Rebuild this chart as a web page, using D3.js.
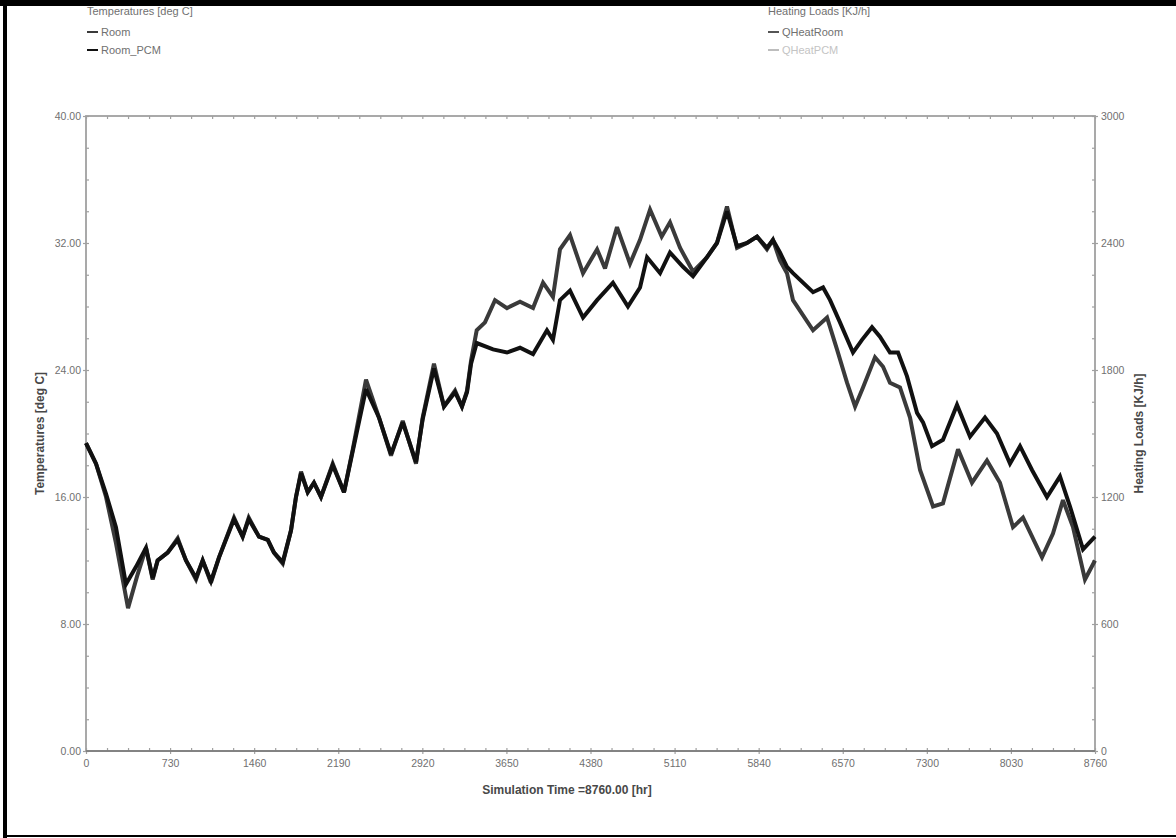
<!DOCTYPE html>
<html>
<head>
<meta charset="utf-8">
<script src="https://cdn.jsdelivr.net/npm/d3@7/dist/d3.min.js"></script>
<style>
  html, body { margin: 0; padding: 0; background: #fff; }
  svg { display: block; }
  .lbl { font-family: "Liberation Sans Narrow", "Liberation Sans", Arial, sans-serif; fill: #707070; }
  .ttl { font-family: "Liberation Sans", Arial, sans-serif; font-weight: bold; fill: #484848; }
</style>
</head>
<body>
<svg id="chart" width="1176" height="838"></svg>
<script>
// Simulation hours and room temperatures [hr, deg C]
const roomTemp = [
  [0,19.4],[87,18.1],[174,16.0],[260,13.1],[365,9.0],[443,11.0],
  [521,12.8],[579,10.8],[622,12.0],[709,12.5],[796,13.4],[868,12.0],[955,10.8],[1013,12.0],
  [1085,10.6],[1155,12.2],[1285,14.7],[1360,13.5],[1413,14.7],[1502,13.5],[1578,13.3],[1632,12.5],
  [1708,11.8],[1780,13.9],[1823,16.0],[1867,17.6],[1925,16.3],[1979,16.9],[2040,16.0],[2142,18.1],
  [2240,16.3],[2316,19.0],[2431,23.4],[2544,21.0],[2648,18.6],[2750,20.8],[2865,18.1],[2923,21.0],
  [3021,24.4],[3108,21.7],[3204,22.7],[3264,21.7],[3308,22.7],[3343,24.6],[3392,26.5],[3464,27.0],
  [3551,28.4],[3655,27.9],[3768,28.3],[3881,27.9],[3968,29.5],[4054,28.6],[4115,31.6],[4202,32.5],
  [4315,30.1],[4437,31.6],[4506,30.4],[4610,33.0],[4723,30.7],[4810,32.2],[4897,34.1],[4998,32.4],
  [5070,33.3],[5157,31.7],[5270,30.2],[5391,31.1],[5478,32.0],[5565,34.3],[5652,31.7],[5739,32.0],
  [5826,32.4],[5912,31.6],[5964,32.2],[6025,30.9],[6086,30.1],[6138,28.4],[6312,26.5],[6434,27.3],
  [6520,25.3],[6607,23.2],[6677,21.7],[6746,22.9],[6850,24.8],[6920,24.2],[6980,23.2],[7067,22.9],
  [7154,21.0],[7241,17.7],[7354,15.4],[7440,15.6],[7571,19.0],[7692,16.9],[7822,18.3],[7935,16.9],
  [8048,14.1],[8135,14.7],[8300,12.2],[8395,13.7],[8482,15.8],[8569,14.1],[8673,10.8],[8760,12.0]
];

const roomPcmTemp = [
  [0,19.4],[87,18.1],[174,16.2],[260,14.1],[347,10.5],[434,11.6],
  [521,12.8],[579,10.9],[622,12.0],[709,12.5],[796,13.3],[868,12.0],[955,10.9],[1013,12.0],
  [1085,10.7],[1155,12.2],[1285,14.6],[1360,13.5],[1413,14.6],[1502,13.5],[1578,13.3],[1632,12.5],
  [1708,11.9],[1780,13.9],[1823,16.0],[1867,17.5],[1925,16.3],[1979,16.9],[2040,16.0],[2142,18.0],
  [2240,16.3],[2316,18.9],[2431,22.8],[2544,21.0],[2648,18.7],[2750,20.7],[2865,18.2],[2923,20.9],
  [3021,24.1],[3108,21.7],[3204,22.6],[3264,21.7],[3308,22.6],[3343,24.4],[3392,25.7],[3534,25.3],
  [3655,25.1],[3768,25.4],[3881,25.0],[4002,26.5],[4054,25.9],[4115,28.4],[4202,29.0],[4315,27.3],
  [4437,28.4],[4575,29.5],[4705,28.0],[4810,29.2],[4871,31.1],[4984,30.1],[5070,31.4],[5183,30.5],
  [5270,29.9],[5391,31.1],[5478,32.0],[5565,34.0],[5652,31.8],[5739,32.0],[5826,32.4],[5912,31.7],
  [5964,32.2],[6025,31.4],[6086,30.5],[6138,30.1],[6312,28.9],[6399,29.2],[6460,28.4],[6546,27.0],
  [6659,25.1],[6737,25.9],[6824,26.7],[6893,26.1],[6980,25.1],[7050,25.1],[7128,23.6],[7215,21.3],
  [7267,20.7],[7345,19.2],[7440,19.6],[7562,21.8],[7675,19.8],[7805,21.0],[7909,20.0],[8022,18.1],
  [8109,19.2],[8213,17.7],[8343,16.0],[8456,17.3],[8543,15.4],[8656,12.7],[8760,13.5]
];

// Heating loads [hr, kJ/h] (zero over the whole year)
const qHeatRoom = [[0,0],[8760,0]];
const qHeatPcm = [[0,0],[8760,0]];

const xTicks = [0,730,1460,2190,2920,3650,4380,5110,5840,6570,7300,8030,8760];
const tempTicks = [0,8,16,24,32,40];
const loadTicks = [0,600,1200,1800,2400,3000];

const legendLeft = { title: "Temperatures  [deg C]", items: ["Room", "Room_PCM"] };
const legendRight = { title: "Heating Loads  [KJ/h]", items: ["QHeatRoom", "QHeatPCM"] };

const colors = { room: "#3a3a3a", pcm: "#111", qRoom: "#555", qPcm: "#bdbdbd" };

const svg = d3.select("#chart");
const m = { left: 86, right: 1095, top: 116, bottom: 751 };

// Page frame
svg.append("rect").attr("x", 0).attr("y", 0).attr("width", 1176).attr("height", 6).attr("fill", "#000");
svg.append("rect").attr("x", 3).attr("y", 0).attr("width", 4).attr("height", 838).attr("fill", "#000");
svg.append("rect").attr("x", 3).attr("y", 835).attr("width", 1173).attr("height", 2).attr("fill", "#000");

const x = d3.scaleLinear().domain([0, 8760]).range([m.left, m.right]);
const y = d3.scaleLinear().domain([0, 40]).range([m.bottom, m.top]);
const y2 = d3.scaleLinear().domain([0, 3000]).range([m.bottom, m.top]);

const minorX = d3.range(0, 8760.1, 182.5);
const minorY = d3.range(0, 40.1, 2);

const g = svg.append("g");

// Frame of the plot area
g.append("rect")
  .attr("x", m.left).attr("y", m.top)
  .attr("width", m.right - m.left).attr("height", m.bottom - m.top)
  .attr("fill", "none").attr("stroke", "#a0a0a0").attr("stroke-width", 1.8);

function styleAxis(sel) {
  sel.select(".domain").remove();
  sel.selectAll(".tick line").attr("stroke", "#a0a0a0").attr("stroke-width", 1.2);
  sel.selectAll(".tick text").attr("class", "lbl").attr("fill", "#707070").attr("font-size", 10.5);
}

// Minor ticks, drawn inward on all four sides
g.append("g").attr("transform", `translate(0,${m.bottom})`)
  .call(d3.axisTop(x).tickValues(minorX).tickSize(3).tickFormat(""))
  .call(styleAxis);
g.append("g").attr("transform", `translate(0,${m.top})`)
  .call(d3.axisBottom(x).tickValues(minorX).tickSize(3).tickFormat(""))
  .call(styleAxis);
g.append("g").attr("transform", `translate(${m.left},0)`)
  .call(d3.axisRight(y).tickValues(minorY).tickSize(3).tickFormat(""))
  .call(styleAxis);
g.append("g").attr("transform", `translate(${m.right},0)`)
  .call(d3.axisLeft(y).tickValues(minorY).tickSize(3).tickFormat(""))
  .call(styleAxis);

// Labelled axes
g.append("g").attr("transform", `translate(0,${m.bottom})`)
  .call(d3.axisBottom(x).tickValues(xTicks).tickSize(3).tickPadding(6).tickFormat(d3.format("d")))
  .call(styleAxis);
g.append("g").attr("transform", `translate(${m.left},0)`)
  .call(d3.axisLeft(y).tickValues(tempTicks).tickSize(3).tickPadding(2).tickFormat(d3.format(".2f")))
  .call(styleAxis);
g.append("g").attr("transform", `translate(${m.right},0)`)
  .call(d3.axisRight(y2).tickValues(loadTicks).tickSize(3).tickPadding(3).tickFormat(d3.format("d")))
  .call(styleAxis);

// Series
const lineT = d3.line().x(d => x(d[0])).y(d => y(d[1]));
const lineQ = d3.line().x(d => x(d[0])).y(d => y2(d[1]));

g.append("path").datum(qHeatPcm).attr("d", lineQ)
  .attr("fill", "none").attr("stroke", colors.qPcm).attr("stroke-width", 1);
g.append("path").datum(qHeatRoom).attr("d", lineQ)
  .attr("fill", "none").attr("stroke", colors.qRoom).attr("stroke-width", 1);

g.append("path").datum(roomTemp).attr("d", lineT)
  .attr("fill", "none").attr("stroke", colors.room).attr("stroke-width", 4)
  .attr("stroke-linejoin", "miter").attr("stroke-miterlimit", 3);
g.append("path").datum(roomPcmTemp).attr("d", lineT)
  .attr("fill", "none").attr("stroke", colors.pcm).attr("stroke-width", 4)
  .attr("stroke-linejoin", "miter").attr("stroke-miterlimit", 3);

// Axis titles
svg.append("text").attr("class", "ttl").attr("font-size", 12)
  .attr("transform", `translate(44,${(m.top + m.bottom) / 2}) rotate(-90)`)
  .attr("text-anchor", "middle").text("Temperatures  [deg C]");
svg.append("text").attr("class", "ttl").attr("font-size", 12)
  .attr("transform", `translate(1143,${(m.top + m.bottom) / 2}) rotate(-90)`)
  .attr("text-anchor", "middle").text("Heating Loads  [KJ/h]");
svg.append("text").attr("class", "ttl").attr("font-size", 12)
  .attr("x", 567).attr("y", 794).attr("text-anchor", "middle")
  .text("Simulation Time =8760.00 [hr]");

// Legends
function legend(x0, spec, cols, textCols) {
  const lg = svg.append("g").attr("transform", `translate(${x0},0)`);
  lg.append("text").attr("class", "lbl").attr("font-size", 11).attr("x", 0).attr("y", 15).text(spec.title);
  spec.items.forEach((name, i) => {
    const yy = 32 + i * 18;
    lg.append("line").attr("x1", 0).attr("x2", 11).attr("y1", yy).attr("y2", yy)
      .attr("stroke", cols[i]).attr("stroke-width", 2);
    lg.append("text").attr("class", "lbl").attr("font-size", 11)
      .attr("x", 14).attr("y", yy + 4)
      .style("fill", textCols[i])
      .text(name);
  });
}
legend(87, legendLeft, [colors.room, colors.pcm], ["#707070", "#707070"]);
legend(768, legendRight, [colors.qRoom, colors.qPcm], ["#707070", "#c4c4c4"]);
</script>
</body>
</html>
